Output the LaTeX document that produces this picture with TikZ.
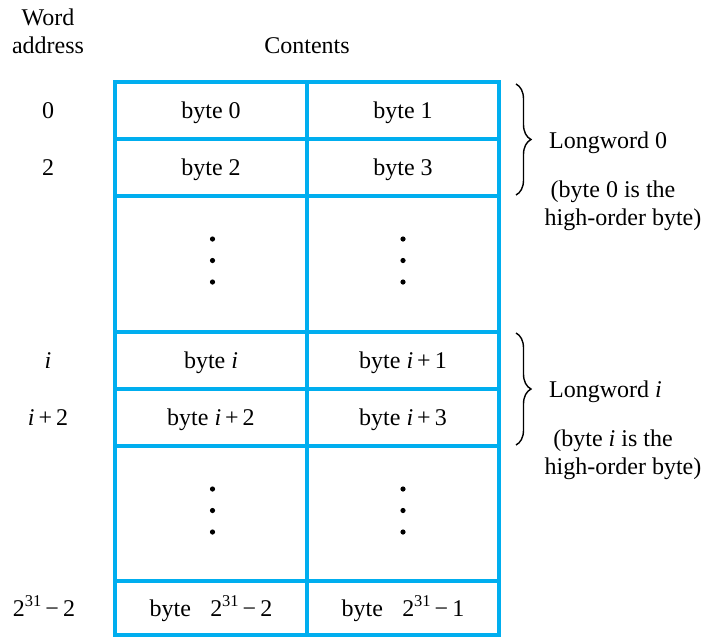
\documentclass[tikz,border=0pt]{standalone}
\usepackage{fontspec}
\setmainfont{Liberation Serif}
\usetikzlibrary{decorations.pathreplacing}
\definecolor{tblue}{RGB}{0,174,239}
\newcommand{\pw}{\raisebox{0.42em}{\fontsize{16.5}{16.5}\selectfont 31}}
\begin{document}
\begin{tikzpicture}[x=1pt,y=-1pt,
  gridline/.style={draw=tblue,line width=4pt},
  txt/.style={font=\fontsize{24}{28}\selectfont,inner sep=0pt,anchor=base},
  note/.style={txt,align=center},
  bracedec/.style={draw=black,line width=1.4pt,decorate,decoration={brace,amplitude=15pt}},
  dot/.style={fill=black}]
\useasboundingbox (0,0) rectangle (703,638);
% table
\draw[gridline] (115,81.5) rectangle (498.5,635);
\foreach \yy in {138.5,196,331.5,388.5,446,581}
  \draw[gridline] (115,\yy) -- (498.5,\yy);
\draw[gridline] (306.5,81.5) -- (306.5,635);
% headers
\node[txt] (hw) at (48,25) {Word};
\node[txt] (ha) at (48,53) {address};
\node[txt] (hc) at (307,53) {Contents};
% address labels
\node[txt] (a0) at (48,118.5) {0};
\node[txt] (a2) at (48,175.5) {2};
\node[txt] (ai) at (48,368.5) {\textit{i}};
\node[txt] (ai2) at (48,425.5) {\textit{i}\,+\,2};
\node[txt] (an) at (44,616.5) {2\pw\,−\,2};
% cells
\node[txt] (c00) at (211,118.5) {byte 0};
\node[txt] (c01) at (403,118.5) {byte 1};
\node[txt] (c10) at (211,175.5) {byte 2};
\node[txt] (c11) at (403,175.5) {byte 3};
\node[txt] (c20) at (211,368.5) {byte \textit{i}};
\node[txt] (c21) at (403,368.5) {byte \textit{i}\,+\,1};
\node[txt] (c30) at (211,425.5) {byte \textit{i}\,+\,2};
\node[txt] (c31) at (403,425.5) {byte \textit{i}\,+\,3};
\node[txt] (c40) at (211,616.5) {byte\hspace{0.8em}2\pw\,−\,2};
\node[txt] (c41) at (403,616.5) {byte\hspace{0.8em}2\pw\,−\,1};
% dots
\foreach \xx in {212.5,403} {
  \foreach \yy in {239,260.5,282,489,510.5,532}
    \fill[dot] (\xx,\yy) circle (2.6pt);
}
% braces
\coordinate (b1t) at (516,84);
\coordinate (b1b) at (516,195);
\coordinate (b2t) at (516,333);
\coordinate (b2b) at (516,445);
\draw[bracedec] (b1t) -- (b1b);
\draw[bracedec] (b2t) -- (b2b);
\node[txt,anchor=base west] (l0) at (549,148.5) {Longword 0};
\node[note] (n0a) at (613,197) {(byte 0 is the};
\node[note] (n0b) at (623,225) {high-order byte)};
\node[txt,anchor=base west] (li) at (549,397) {Longword \textit{i}};
\node[note] (nia) at (613,446.5) {(byte \textit{i} is the};
\node[note] (nib) at (623,474.5) {high-order byte)};
\end{tikzpicture}
\end{document}
